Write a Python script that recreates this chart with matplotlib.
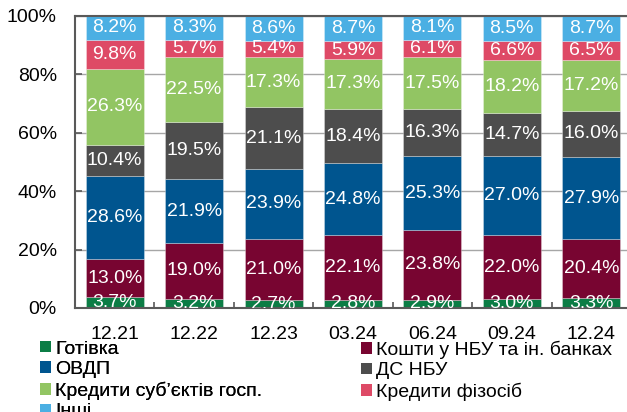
import matplotlib
matplotlib.use("Agg")
import matplotlib.pyplot as plt
import numpy as np
from matplotlib.patches import Patch

plt.rcParams['font.family'] = ['Liberation Sans', 'DejaVu Sans']

categories = ["12.21", "12.22", "12.23", "03.24", "06.24", "09.24", "12.24"]
series_names = ["Готівка", "Кошти у НБУ та ін. банках", "ОВДП", "ДС НБУ",
                "Кредити суб’єктів госп.", "Кредити фізосіб", "Інші"]
cash = [3.7, 3.2, 2.7, 2.8, 2.9, 3.0, 3.3]
nbu_banks = [13.0, 19.0, 21.0, 22.1, 23.8, 22.0, 20.4]
ovdp = [28.6, 21.9, 23.9, 24.8, 25.3, 27.0, 27.9]
ds_nbu = [10.4, 19.5, 21.1, 18.4, 16.3, 14.7, 16.0]
corp_loans = [26.3, 22.5, 17.3, 17.3, 17.5, 18.2, 17.2]
retail_loans = [9.8, 5.7, 5.4, 5.9, 6.1, 6.6, 6.5]
other = [8.2, 8.3, 8.6, 8.7, 8.1, 8.5, 8.7]
series = [cash, nbu_banks, ovdp, ds_nbu, corp_loans, retail_loans, other]
colors = ["#0B7D45", "#780531", "#00558F", "#4D4D4D", "#92C563", "#DE4A66", "#4BAFE3"]

fig = plt.figure(figsize=(6.27, 4.12), dpi=100)
ax = fig.add_axes([75/627, (412-308)/412, 1 - 75/627, (308-16)/412])

x = np.arange(len(categories))
bottom = np.zeros(len(categories))
for vals, col in zip(series, colors):
    vals = np.array(vals)
    ax.bar(x, vals, 0.73, bottom=bottom, color=col, edgecolor=(1, 1, 1, 0.35),
           linewidth=0.6, zorder=2)
    for xi, b, v in zip(x, bottom, vals):
        ax.text(xi, b + v / 2, f"{v:.1f}%", ha='center', va='center',
                color='white', fontsize=14, clip_on=True, zorder=3)
    bottom += vals

ax.set_xlim(-0.5, 6.45)
ax.set_ylim(0, 100)
ax.set_yticks([0, 20, 40, 60, 80, 100])
ax.set_yticklabels([f"{v}%" for v in [0, 20, 40, 60, 80, 100]])
ax.set_xticks(x)
ax.set_xticklabels(categories)
ax.set_xticks(x[:-1] + 0.5, minor=True)
ax.tick_params(axis='x', which='major', length=0, pad=13, labelsize=14)
ax.tick_params(axis='x', which='minor', direction='in', length=4, width=1.2, color='#595959')
ax.tick_params(axis='y', direction='in', length=5, width=1.2, color='#595959', pad=13, labelsize=14)
ax.yaxis.grid(True, color='#A6A6A6', linewidth=1, zorder=0)
ax.set_axisbelow(True)
for s in ['left', 'bottom', 'top']:
    ax.spines[s].set_color('#595959')
    ax.spines[s].set_linewidth(1.5)
ax.spines['right'].set_visible(False)

handles = [Patch(facecolor=c, edgecolor='none') for c in colors]
leg_kw = dict(loc='upper left', frameon=False, fontsize=14, handlelength=0.54,
              handleheight=0.54, handletextpad=0.23, labelspacing=0.18,
              borderpad=0, borderaxespad=0)
col1 = [0, 2, 4, 6]
col2 = [1, 3, 5]
leg1 = fig.legend([handles[i] for i in col1], [series_names[i] for i in col1],
                  bbox_to_anchor=(40/627, (412-340.5)/412), **leg_kw)
fig.add_artist(leg1)
fig.legend([handles[i] for i in col2], [series_names[i] for i in col2],
           bbox_to_anchor=(361/627, (412-340.5)/412), **leg_kw)

fig.savefig("out.png", dpi=100)
